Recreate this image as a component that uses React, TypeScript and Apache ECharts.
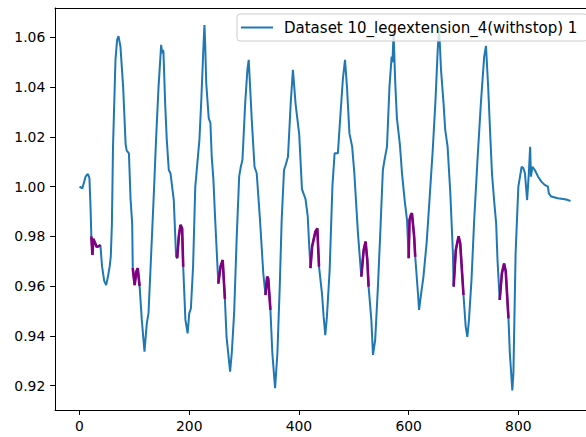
import React, { useEffect, useRef } from "react";
import * as echarts from "echarts";

const seriesName = "Dataset 10_legextension_4(withstop) 1";

const xValues = [
  0, 5, 11, 15, 18, 20, 21.5, 23.5, 25, 28, 31, 35, 38, 41, 45, 48.5, 52, 55, 57, 59, 61, 65.5, 68.5, 71, 74.5,
  79.5, 84, 86, 90, 93, 96, 97, 100.5, 103.5, 106, 109.5, 113.5, 118.4, 122.6, 125.7, 130.6, 135.4, 139.7, 144,
  148.8, 150.6, 152.4, 153, 156, 159, 162.7, 165.8, 171.8, 176, 178, 181, 184, 187, 189, 193, 197, 200, 203, 207,
  211, 218.6, 222, 226.4, 227.7, 229, 231, 235.5, 238.6, 241, 244, 247, 253, 257, 261, 265, 268, 274.5, 277.5,
  281.8, 286.6, 291, 294, 297, 302, 306, 308.4, 311, 314, 319, 323, 329, 335, 339, 342, 344, 348, 351.5, 356.5,
  360.7, 365, 368.5, 372.8, 375.8, 380, 385, 389, 394, 400.5, 405.5, 412, 416, 419, 421, 424, 430, 433.5, 436.6,
  442, 445, 448, 451, 456, 461, 465, 471, 475, 480, 484, 487.6, 492, 497, 501, 507.6, 513.7, 518, 521.5, 524.6,
  527, 532, 535, 539, 544, 548, 553, 556, 560.5, 565, 569, 570.5, 572.5, 575.6, 578.6, 584, 588, 593, 597, 600,
  601.6, 604, 606, 610, 612, 617, 619, 622, 627, 633, 639, 644, 649, 653, 655.5, 659, 663.6, 666.7, 671, 676,
  680.7, 682, 686, 691, 694, 700, 704, 707, 710, 714.6, 719.5, 725.5, 731.7, 737.7, 741, 745, 748.6, 752, 756,
  759.6, 762, 766, 770, 774, 777, 782, 784.5, 789, 791, 795, 800, 806, 809, 812, 816, 819, 821.5, 823, 825.7, 830,
  836, 842, 848, 854, 855.5, 860, 872, 884.6, 890.7, 895,
];

const yValues = [
  1.0, 0.9993, 1.004, 1.0051, 1.0035, 0.992, 0.98, 0.9725, 0.979, 0.9775, 0.9758, 0.976, 0.9765, 0.968, 0.962,
  0.9604, 0.964, 0.968, 0.972, 0.985, 1.016, 1.051, 1.059, 1.0605, 1.0565, 1.04, 1.017, 1.0145, 1.0134, 0.995,
  0.985, 0.9672, 0.9604, 0.9658, 0.9672, 0.96, 0.9464, 0.9336, 0.945, 0.949, 0.973, 0.997, 1.02, 1.04, 1.057,
  1.0537, 1.055, 1.054, 1.034, 1.019, 1.0067, 1.0054, 0.9946, 0.9718, 0.9712, 0.98, 0.9846, 0.9832, 0.9678,
  0.9464, 0.941, 0.949, 0.951, 0.968, 1.0, 1.019, 1.035, 1.059, 1.065, 1.0577, 1.0416, 1.0275, 1.0256, 1.012,
  1.003, 0.988, 0.961, 0.9678, 0.9705, 0.9548, 0.9396, 0.9256, 0.933, 0.949, 0.98, 1.004, 1.008, 1.0107, 1.0336,
  1.047, 1.051, 1.04, 1.0268, 1.008, 1.0054, 0.9866, 0.9651, 0.9564, 0.9638, 0.9631, 0.9504, 0.933, 0.9189, 0.933,
  0.9598, 0.9866, 1.0067, 1.0087, 1.012, 1.0336, 1.047, 1.033, 1.021, 0.999, 0.995, 0.988, 0.975, 0.9672, 0.9759,
  0.9819, 0.9832, 0.9678, 0.957, 0.9477, 0.9403, 0.9477, 0.9665, 1.0, 1.0134, 1.0134, 1.0268, 1.043, 1.051, 1.04,
  1.0215, 1.0161, 1.0054, 0.9812, 0.9638, 0.9745, 0.9779, 0.9705, 0.9598, 0.9464, 0.9323, 0.9383, 0.9598, 0.98,
  1.0067, 1.0107, 1.0161, 1.04, 1.0523, 1.05, 1.062, 1.0416, 1.0275, 1.017, 1.005, 0.994, 0.9866, 0.9712, 0.9866,
  0.9886, 0.9893, 0.98, 0.9718, 0.957, 0.9504, 0.9557, 0.9638, 0.978, 0.998, 1.015, 1.035, 1.055, 1.064, 1.047,
  1.0336, 1.0228, 1.0161, 0.9973, 0.9732, 0.9598, 0.9745, 0.98, 0.9772, 0.9564, 0.9437, 0.9396, 0.9464, 0.9625,
  0.9866, 1.0107, 1.0336, 1.0523, 1.0566, 1.04, 1.0216, 1.005, 0.994, 0.985, 0.9705, 0.9544, 0.9651, 0.9691,
  0.966, 0.947, 0.933, 0.918, 0.925, 0.9732, 1.0, 1.008, 1.0075, 1.0054, 0.9946, 1.005, 1.016, 1.004, 1.008,
  1.0067, 1.004, 1.002, 1.0007, 1.0, 0.9973, 0.996, 0.9953, 0.9949, 0.9946, 0.9942,
];

// x ranges (start, end) of the purple "stop" segments
const stopRanges = [
  [21.5, 38],
  [97, 109.5],
  [178, 189],
  [253, 265],
  [339, 348],
  [421, 436.6],
  [513.7, 527],
  [600, 612],
  [682, 700],
  [766, 782],
];

const xTicks = [0, 200, 400, 600, 800];
const yTicks = [0.92, 0.94, 0.96, 0.98, 1.0, 1.02, 1.04, 1.06];

export default function App() {
  const ref = useRef<HTMLDivElement>(null);
  useEffect(() => {
    if (!ref.current) return;
    const chart = echarts.init(ref.current, null, { renderer: "svg" });
    const main = xValues.map((x, i) => [x, yValues[i]]);
    const stopSeries = stopRanges.map(([a, b], k) => ({
      type: "line",
      name: "stop" + k,
      data: main.filter(([x]) => x >= a && x <= b),
      showSymbol: false,
      symbol: "none",
      lineStyle: { color: "#800080", width: 2.6 },
      itemStyle: { color: "#800080" },
      z: 3,
      silent: true,
    }));
    const font = "DejaVu Sans";
    const xMin = -44.75;
    const xMax = 939.75;
    chart.setOption({
      animation: false,
      backgroundColor: "#ffffff",
      grid: {
        left: 55,
        top: 8,
        width: 540,
        height: 402,
        show: false,
        containLabel: false,
        outerBoundsMode: "none",
      },
      xAxis: [
        {
          type: "value",
          min: xMin,
          max: xMax,
          splitLine: { show: false },
          axisLine: { show: true, onZero: false, lineStyle: { color: "#000", width: 1 } },
          axisTick: { show: true, customValues: xTicks, length: 4.9, lineStyle: { color: "#000", width: 1 } },
          axisLabel: {
            customValues: xTicks,
            color: "#000",
            fontSize: 13.9,
            fontFamily: font,
            margin: 8.5,
            formatter: (v: number) => String(Math.round(v)),
          },
        },
        {
          type: "value",
          position: "top",
          min: xMin,
          max: xMax,
          splitLine: { show: false },
          axisLine: { show: true, onZero: false, lineStyle: { color: "#000", width: 1 } },
          axisTick: { show: false },
          axisLabel: { show: false },
        },
      ],
      yAxis: {
        type: "value",
        min: 0.91015,
        max: 1.07185,
        splitLine: { show: false },
        axisLine: { show: true, onZero: false, lineStyle: { color: "#000", width: 1 } },
        axisTick: { show: true, customValues: yTicks, length: 4.9, lineStyle: { color: "#000", width: 1 } },
        axisLabel: {
          customValues: yTicks,
          color: "#000",
          fontSize: 13.9,
          fontFamily: font,
          margin: 9.7,
          formatter: (v: number) => v.toFixed(2),
        },
      },
      legend: {
        data: [seriesName],
        left: 237,
        top: 14,
        orient: "horizontal",
        icon: "rect",
        itemWidth: 32,
        itemHeight: 2,
        padding: [6, 10, 6, 4],
        backgroundColor: "rgba(255,255,255,0.8)",
        borderColor: "#cccccc",
        borderWidth: 1,
        borderRadius: 3,
        textStyle: { color: "#000", fontSize: 15, fontFamily: font, padding: [0, 0, 0, 6] },
      },
      series: [
        {
          type: "line",
          name: seriesName,
          data: main,
          showSymbol: false,
          symbol: "none",
          lineStyle: { color: "#1f77b4", width: 2 },
          itemStyle: { color: "#1f77b4" },
          z: 2,
        },
        ...stopSeries,
      ],
    });
    return () => chart.dispose();
  }, []);
  return (
    <div
      ref={ref}
      style={{ position: "absolute", left: 0, top: 0, width: 586, height: 437, overflow: "hidden" }}
    />
  );
}
